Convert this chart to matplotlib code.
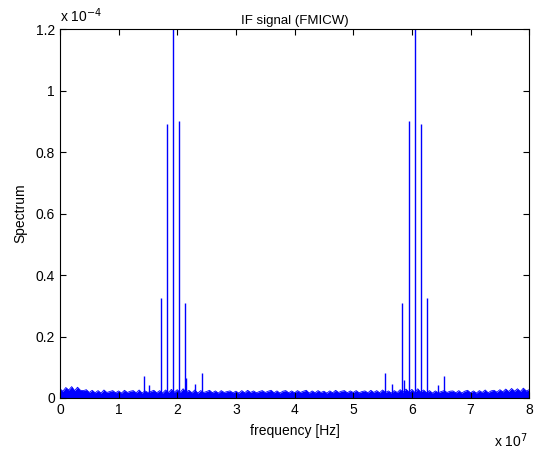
import numpy as np
import matplotlib.pyplot as plt

plt.rcParams['font.family'] = ['Liberation Sans', 'DejaVu Sans']

# noise floor of the spectrum (x 1e-4), read every 0.05e7 Hz from 0 to 8e7
noise_lvl = [
    0.030, 0.022, 0.034, 0.026, 0.037, 0.024, 0.035, 0.025, 0.024, 0.027,
    0.018, 0.025, 0.017, 0.024, 0.016, 0.026, 0.018, 0.021, 0.024, 0.017,
    0.023, 0.016, 0.025, 0.018, 0.022, 0.024, 0.017, 0.026, 0.016, 0.023,
    0.018, 0.021, 0.025, 0.017, 0.024, 0.016, 0.026, 0.018, 0.028, 0.019,
    0.027, 0.018, 0.030, 0.019, 0.025, 0.017, 0.026, 0.016, 0.024, 0.018,
    0.021, 0.025, 0.017, 0.023, 0.016, 0.024, 0.018, 0.021, 0.023, 0.017,
    0.022, 0.016, 0.024, 0.017, 0.025, 0.018, 0.023, 0.017, 0.021, 0.024,
    0.018, 0.022, 0.025, 0.017, 0.023, 0.016, 0.022, 0.024, 0.017, 0.023,
    0.017, 0.024, 0.018, 0.022, 0.025, 0.016, 0.023, 0.017, 0.024, 0.018,
    0.022, 0.016, 0.023, 0.017, 0.025, 0.018, 0.022, 0.024, 0.017, 0.023,
    0.018, 0.024, 0.017, 0.021, 0.023, 0.017, 0.025, 0.018, 0.024, 0.017,
    0.026, 0.018, 0.023, 0.016, 0.024, 0.018, 0.027, 0.019, 0.029, 0.019,
    0.028, 0.018, 0.030, 0.019, 0.026, 0.017, 0.024, 0.016, 0.023, 0.017,
    0.021, 0.024, 0.018, 0.022, 0.023, 0.017, 0.024, 0.016, 0.022, 0.025,
    0.017, 0.023, 0.016, 0.024, 0.018, 0.026, 0.017, 0.023, 0.025, 0.019,
    0.027, 0.020, 0.029, 0.021, 0.031, 0.022, 0.030, 0.021, 0.032, 0.023,
    0.027,
]
noise_step = 0.05  # x 1e7 Hz

# spectral lines (frequency x 1e7 Hz, amplitude x 1e-4)
peak_freq = [1.433, 1.519, 1.724, 1.820, 1.925, 2.026, 2.128, 2.142, 2.310, 2.428,
             5.546, 5.660, 5.840, 5.858, 5.956, 6.050, 6.155, 6.251, 6.445, 6.548]
peak_amp = [0.072, 0.042, 0.324, 0.890, 1.300, 0.900, 0.310, 0.064, 0.045, 0.081,
            0.080, 0.046, 0.310, 0.060, 0.900, 1.300, 0.890, 0.324, 0.042, 0.070]

freq = np.arange(len(noise_lvl)) * noise_step

fig, ax = plt.subplots(figsize=(5.4, 4.49), dpi=100)
fig.subplots_adjust(left=0.111, right=0.98, bottom=0.1136, top=0.935)

ax.fill_between(freq, 0, noise_lvl, color='b', lw=0)
ax.plot(freq, noise_lvl, color='b', lw=0.6)
ax.vlines(peak_freq, 0, peak_amp, color='b', lw=1.0)

ax.set_xlim(0, 8)
ax.set_ylim(0, 1.2)
ax.set_xticks(range(0, 9))
ax.set_yticks([0, 0.2, 0.4, 0.6, 0.8, 1, 1.2])
ax.set_yticklabels(['0', '0.2', '0.4', '0.6', '0.8', '1', '1.2'])
ax.tick_params(direction='in', top=True, right=True, labelsize=10, length=4)
for s in ax.spines.values():
    s.set_linewidth(0.8)

ax.set_title('IF signal (FMICW)', fontsize=9.5, pad=4)
ax.set_xlabel('frequency [Hz]', fontsize=10, labelpad=5)
ax.set_ylabel('Spectrum', fontsize=10, labelpad=6)
ax.text(0.0, 1.01, r'x 10$^{-4}$', transform=ax.transAxes, fontsize=10, va='bottom')
ax.text(0.925, -0.09, r'x 10$^{7}$', transform=ax.transAxes, fontsize=10, va='top')

fig.savefig('out.png', dpi=100)
